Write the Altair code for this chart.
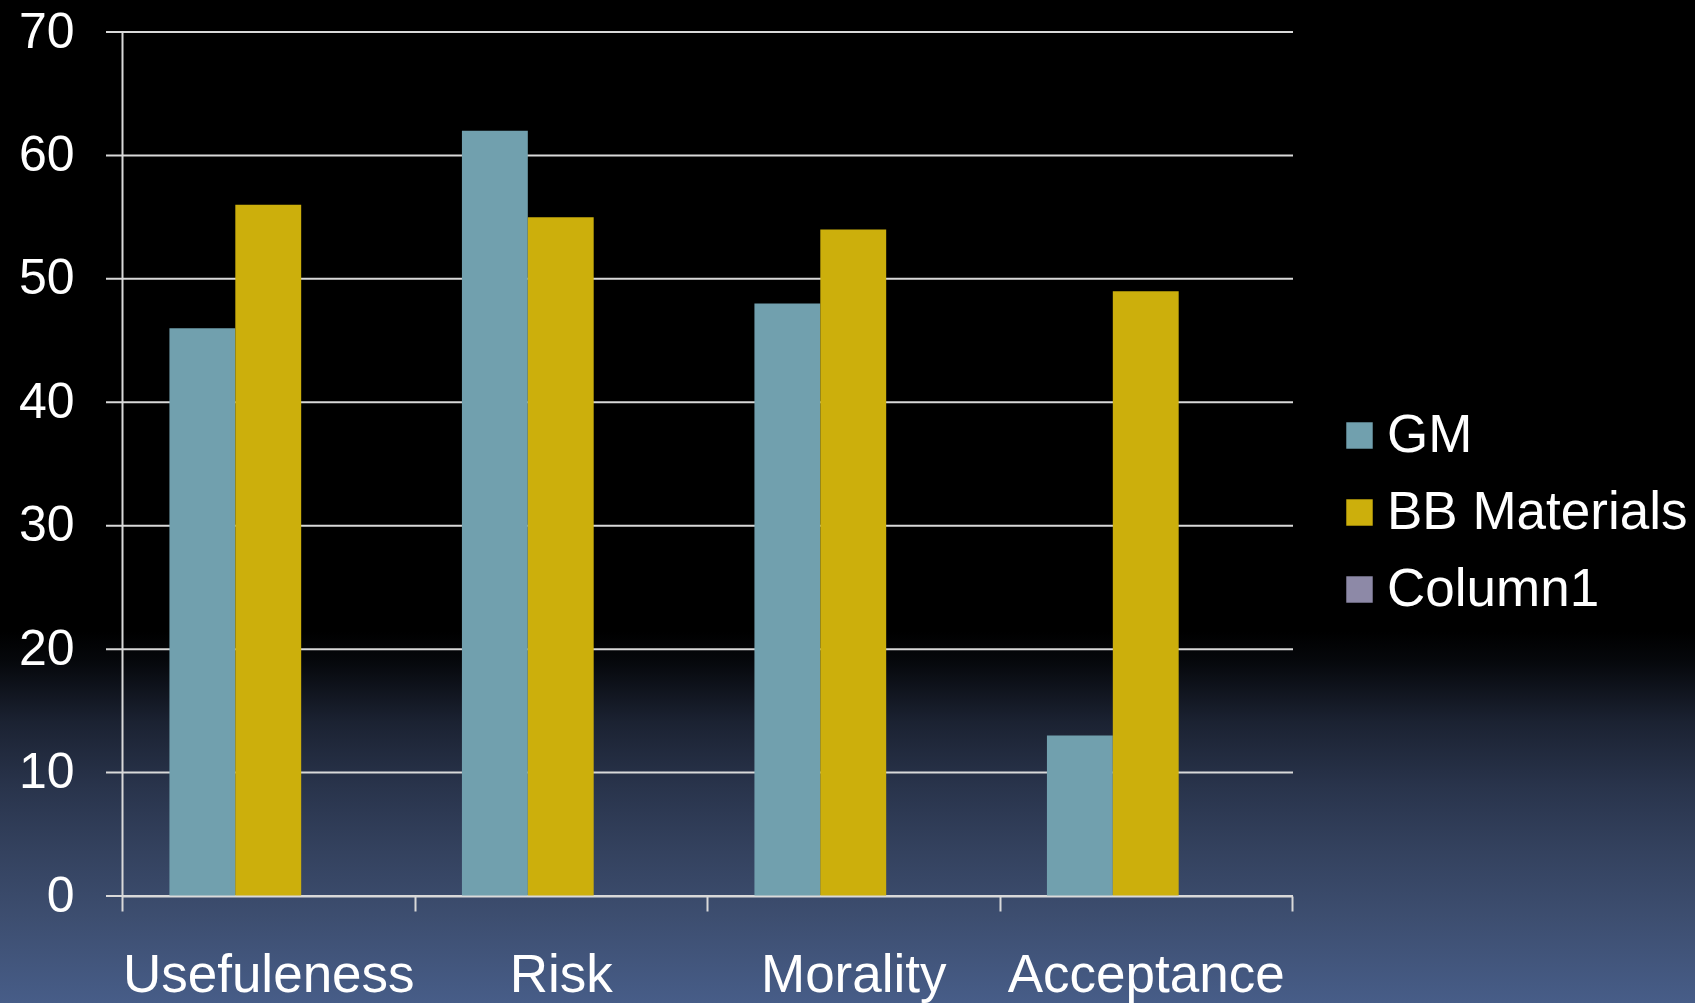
import altair as alt
import pandas as pd

# Survey scores per category for each series
categories = ["Usefuleness", "Risk", "Morality", "Acceptance"]
series = ["GM", "BB Materials", "Column1"]
gm_values = [46, 62, 48, 13]
bb_values = [56, 55, 54, 49]
column1_values = [None, None, None, None]
y_ticks = [0, 10, 20, 30, 40, 50, 60, 70]
series_colors = ["#71A0AE", "#CCAF0C", "#8D89A7"]

rows = []
for i, cat in enumerate(categories):
    for name, vals in zip(series, [gm_values, bb_values, column1_values]):
        rows.append({"category": cat, "series": name, "value": vals[i]})
df = pd.DataFrame(rows)

W, H = 1170, 864
PAD_L, PAD_T = 122, 32
CANVAS_W, CANVAS_H = 1695, 1003
FONT = "Liberation Sans"
LINE = "#D9D9D9"

y_scale = alt.Scale(domain=[0, 70], nice=False)
y_axis = alt.Axis(
    title=None, values=y_ticks, labelFont=FONT, labelFontSize=50,
    labelColor="white", labelPadding=48, labelLimit=0, ticks=False,
    domain=True, domainColor=LINE, domainWidth=2, grid=False,
    zindex=1,
)

# slide-style backdrop: black fading into slate blue near the bottom
backdrop = alt.Chart(pd.DataFrame({"k": [0]})).mark_rect(
    fill=alt.LinearGradient(
        gradient="linear", x1=0, x2=0, y1=0, y2=1,
        stops=[
            alt.GradientStop(offset=0.0, color="#000000"),
            alt.GradientStop(offset=0.63, color="#000000"),
            alt.GradientStop(offset=0.66, color="#06080C"),
            alt.GradientStop(offset=0.72, color="#1B2232"),
            alt.GradientStop(offset=0.785, color="#29344C"),
            alt.GradientStop(offset=0.85, color="#34425F"),
            alt.GradientStop(offset=0.915, color="#3D4E70"),
            alt.GradientStop(offset=1.0, color="#475D88"),
        ],
    ),
    strokeWidth=0,
).encode(
    x=alt.value(-PAD_L), x2=alt.value(CANVAS_W - PAD_L),
    y=alt.value(-PAD_T), y2=alt.value(CANVAS_H - PAD_T),
)

# horizontal gridlines at each tick value, drawn behind the bars
grid = alt.Chart(pd.DataFrame({"tick": y_ticks})).mark_rule(
    color=LINE, strokeWidth=2
).encode(
    y=alt.Y("tick:Q", scale=y_scale, axis=y_axis),
    x=alt.value(-16), x2=alt.value(W + 1),
)

bars = alt.Chart(df).mark_bar(strokeWidth=0).encode(
    x=alt.X(
        "category:N", sort=categories,
        scale=alt.Scale(paddingInner=0, paddingOuter=0),
        axis=alt.Axis(
            title=None, labelAngle=0, labelFont=FONT, labelFontSize=53,
            labelColor="white", labelPadding=38, labelLimit=0,
            tickBand="extent",
            ticks=True, tickSize=15, tickColor=LINE, tickWidth=2,
            domain=True, domainColor=LINE, domainWidth=2, grid=False,
            zindex=1,
        ),
    ),
    xOffset=alt.XOffset(
        "series:N", sort=series,
        scale=alt.Scale(domain=series, paddingInner=0, paddingOuter=0.72),
    ),
    y=alt.Y("value:Q", scale=y_scale, axis=y_axis),
    color=alt.Color(
        "series:N",
        scale=alt.Scale(domain=series, range=series_colors),
        legend=alt.Legend(
            title=None, orient="none", legendX=1211, legendY=377,
            labelFont=FONT, labelFontSize=53, labelColor="white",
            labelLimit=0,
            symbolType="square", symbolSize=700, symbolStrokeWidth=0,
            symbolOpacity=1, labelOffset=1, rowPadding=23, padding=0,
        ),
    ),
)

chart = alt.layer(backdrop, grid, bars).properties(
    width=W, height=H,
    autosize=alt.AutoSizeParams(type="none"),
    padding={"left": PAD_L, "top": PAD_T,
             "right": CANVAS_W - PAD_L - W, "bottom": CANVAS_H - PAD_T - H},
    background="black",
).configure_view(stroke=None)

chart.save("out.html", embed_options={"renderer": "svg", "actions": False})
